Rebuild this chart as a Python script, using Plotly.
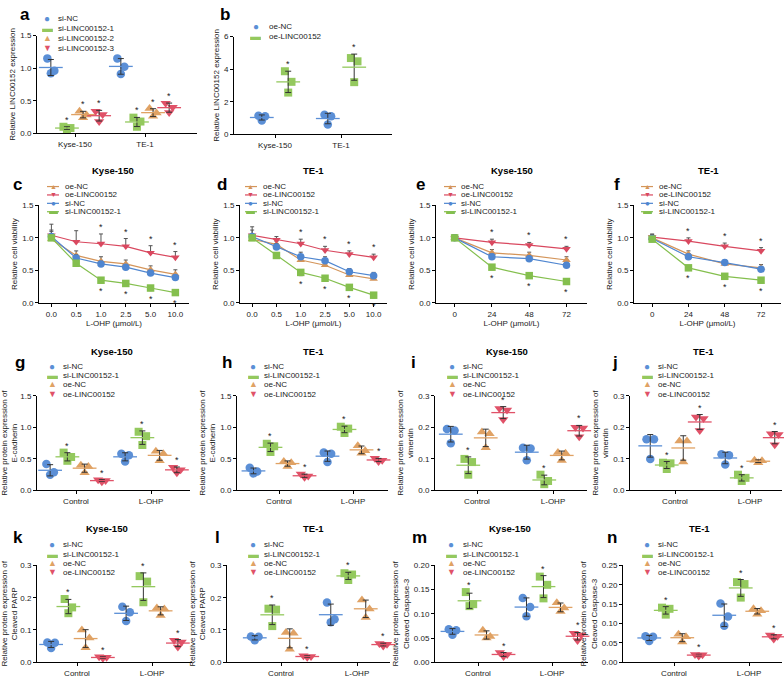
import numpy as np
import plotly.graph_objects as go

W, H = 784, 682
FONT = "Liberation Sans, Arial, Helvetica, sans-serif"

# ---------------- data ----------------
CELL_GROUPS = ["Kyse-150", "TE-1"]
TREAT_GROUPS = ["Control", "L-OHP"]
DOSES = ["0.0", "0.5", "1.0", "2.5", "5.0", "10.0"]
HOURS = ["0", "24", "48", "72"]

# panel a : relative LINC00152 expression (triplicates, per cell line)
A_siNC = [[1.15, 0.96, 0.92], [1.15, 1.02, 0.91]]
A_si1 = [[0.10, 0.08, 0.06], [0.24, 0.18, 0.10]]
A_si2 = [[0.34, 0.28, 0.24], [0.38, 0.31, 0.26]]
A_si3 = [[0.34, 0.29, 0.18], [0.46, 0.40, 0.32]]
# panel b
B_oeNC = [[1.14, 1.10, 0.85], [1.20, 1.10, 0.60]]
B_oeLINC = [[3.87, 3.22, 2.56], [4.68, 4.48, 3.20]]

# panels c-f : relative cell viability (mean, sd)
C_oeNC = [0.98, 0.73, 0.64, 0.60, 0.51, 0.44]
C_oeLINC = [1.04, 0.94, 0.91, 0.87, 0.77, 0.70]
C_siNC = [1.02, 0.69, 0.60, 0.55, 0.46, 0.39]
C_siLINC = [1.00, 0.61, 0.35, 0.30, 0.23, 0.16]
C_oeNC_sd = [0.12, 0.07, 0.07, 0.06, 0.06, 0.07]
C_oeLINC_sd = [0.17, 0.17, 0.15, 0.12, 0.11, 0.09]
C_siNC_sd = [0.10, 0.05, 0.04, 0.04, 0.04, 0.04]
C_siLINC_sd = [0.04, 0.04, 0.04, 0.04, 0.04, 0.04]

D_oeNC = [0.98, 0.90, 0.66, 0.58, 0.43, 0.37]
D_oeLINC = [1.04, 0.97, 0.91, 0.81, 0.75, 0.70]
D_siNC = [1.02, 0.86, 0.71, 0.65, 0.48, 0.42]
D_siLINC = [1.00, 0.73, 0.47, 0.38, 0.24, 0.12]
D_oeNC_sd = [0.06, 0.05, 0.05, 0.05, 0.04, 0.04]
D_oeLINC_sd = [0.13, 0.05, 0.07, 0.06, 0.05, 0.05]
D_siNC_sd = [0.10, 0.05, 0.07, 0.06, 0.05, 0.05]
D_siLINC_sd = [0.04, 0.04, 0.05, 0.04, 0.04, 0.04]

E_oeNC = [1.00, 0.77, 0.73, 0.66]
E_oeLINC = [1.00, 0.93, 0.89, 0.83]
E_siNC = [1.00, 0.71, 0.68, 0.58]
E_siLINC = [1.00, 0.55, 0.42, 0.33]
E_oeNC_sd = [0.05, 0.05, 0.05, 0.05]
E_oeLINC_sd = [0.05, 0.05, 0.04, 0.04]
E_siNC_sd = [0.04, 0.04, 0.04, 0.04]
E_siLINC_sd = [0.03, 0.04, 0.04, 0.04]

F_oeNC = [1.00, 0.75, 0.60, 0.54]
F_oeLINC = [1.01, 0.95, 0.87, 0.80]
F_siNC = [0.99, 0.71, 0.62, 0.52]
F_siLINC = [0.98, 0.54, 0.41, 0.35]
F_oeNC_sd = [0.05, 0.05, 0.05, 0.05]
F_oeLINC_sd = [0.05, 0.05, 0.05, 0.05]
F_siNC_sd = [0.04, 0.04, 0.04, 0.04]
F_siLINC_sd = [0.03, 0.04, 0.04, 0.04]

# panels g-n : relative protein expression (triplicates, Control / L-OHP)
G_siNC = [[0.42, 0.29, 0.25], [0.58, 0.56, 0.46]]
G_si1 = [[0.60, 0.53, 0.47], [0.93, 0.86, 0.72]]
G_oeNC = [[0.40, 0.38, 0.28], [0.62, 0.58, 0.47]]
G_oeLINC = [[0.17, 0.16, 0.14], [0.37, 0.33, 0.28]]

H_siNC = [[0.36, 0.30, 0.27], [0.60, 0.58, 0.45]]
H_si1 = [[0.74, 0.70, 0.61], [1.01, 0.98, 0.91]]
H_oeNC = [[0.46, 0.44, 0.38], [0.71, 0.63, 0.59]]
H_oeLINC = [[0.26, 0.23, 0.21], [0.51, 0.48, 0.46]]

I_siNC = [[0.195, 0.190, 0.150], [0.135, 0.133, 0.096]]
I_si1 = [[0.100, 0.090, 0.050], [0.050, 0.030, 0.020]]
I_oeNC = [[0.185, 0.180, 0.135], [0.120, 0.118, 0.095]]
I_oeLINC = [[0.260, 0.255, 0.225], [0.200, 0.198, 0.170]]

J_siNC = [[0.162, 0.162, 0.100], [0.115, 0.112, 0.082]]
J_si1 = [[0.088, 0.086, 0.068], [0.050, 0.040, 0.030]]
J_oeNC = [[0.157, 0.157, 0.090], [0.096, 0.094, 0.088]]
J_oeLINC = [[0.233, 0.228, 0.190], [0.180, 0.177, 0.145]]

K_siNC = [[0.061, 0.060, 0.044], [0.172, 0.155, 0.128]]
K_si1 = [[0.196, 0.170, 0.152], [0.267, 0.250, 0.186]]
K_oeNC = [[0.100, 0.075, 0.045], [0.168, 0.165, 0.145]]
K_oeLINC = [[0.017, 0.015, 0.012], [0.068, 0.063, 0.047]]

L_siNC = [[0.080, 0.079, 0.068], [0.185, 0.133, 0.124]]
L_si1 = [[0.166, 0.163, 0.112], [0.276, 0.272, 0.255]]
L_oeNC = [[0.092, 0.090, 0.040], [0.193, 0.165, 0.139]]
L_oeLINC = [[0.020, 0.018, 0.015], [0.058, 0.056, 0.050]]

M_siNC = [[0.068, 0.066, 0.057], [0.133, 0.114, 0.095]]
M_si1 = [[0.145, 0.120, 0.116], [0.177, 0.160, 0.132]]
M_oeNC = [[0.066, 0.053, 0.050], [0.123, 0.112, 0.105]]
M_oeLINC = [[0.020, 0.016, 0.012], [0.060, 0.056, 0.045]]

N_siNC = [[0.067, 0.066, 0.055], [0.152, 0.118, 0.094]]
N_si1 = [[0.141, 0.138, 0.123], [0.207, 0.202, 0.167]]
N_oeNC = [[0.072, 0.066, 0.052], [0.138, 0.133, 0.124]]
N_oeLINC = [[0.020, 0.019, 0.016], [0.070, 0.067, 0.060]]

# ---------------- style ----------------
BLUE = "#5B8FD6"
GREEN = "#94C95E"
ORANGE = "#E0A264"
RED = "#E05268"
LBLUE = "#4F86D0"
LGREEN = "#84BF4E"
LORANGE = "#D4955A"
LRED = "#D9485F"
ERR = "#333333"
TXT = "#1a1a1a"
GLYPH = {"circle": "●", "square": "▬", "triangle-up": "▲", "triangle-down": "▼"}
GSIZE = {"circle": 10, "square": 11, "triangle-up": 9, "triangle-down": 9}
MSIZE = {"circle": 8.5, "square": 8, "triangle-up": 9, "triangle-down": 9}
REP_DX = [-0.05, 0.05, 0.0]

fig = go.Figure()
annotations = []
shapes = []
layout = {}


def axis_names(k):
    sfx = "" if k == 1 else str(k)
    return "xaxis" + sfx, "yaxis" + sfx, "x" + sfx, "y" + sfx


def set_axes(k, box, xr, xtv, xtt, yr, ytv, yfmt, ytitle, xtitle=None):
    x0, x1, yt, yb = box
    xa, ya, xr_, yr_ = axis_names(k)
    base = dict(showline=True, linecolor="black", linewidth=1, ticks="outside",
                ticklen=3, tickwidth=1, tickcolor="black", showgrid=False,
                zeroline=False, fixedrange=True,
                tickfont=dict(size=8, family=FONT, color=TXT))
    layout[xa] = dict(base, domain=[x0 / W, x1 / W], range=xr, anchor=yr_,
                      tickmode="array", tickvals=xtv, ticktext=xtt)
    if xtitle:
        layout[xa]["title"] = dict(text=xtitle, font=dict(size=8, family=FONT, color=TXT), standoff=2)
    layout[ya] = dict(base, domain=[1 - yb / H, 1 - yt / H], range=yr, anchor=xr_,
                      tickmode="array", tickvals=ytv, tickformat=yfmt,
                      title=dict(text=ytitle, font=dict(size=8, family=FONT, color=TXT), standoff=3))
    return xr_, yr_


def legend(mx, tx, ys, items, line=False):
    for (name, col, sym), y in zip(items, ys):
        if line:
            shapes.append(dict(type="line", xref="paper", yref="paper",
                               x0=(mx - 6) / W, x1=(mx + 6) / W, y0=1 - y / H, y1=1 - y / H,
                               line=dict(color=col, width=1.2)))
        annotations.append(dict(xref="paper", yref="paper", x=mx / W, y=1 - y / H,
                                text=GLYPH[sym], showarrow=False, xanchor="center", yanchor="middle",
                                borderpad=0, height=8, valign="middle", yshift=0.5,
                                font=dict(size=GSIZE[sym] - (2 if line else 0), color=col, family=FONT)))
        annotations.append(dict(xref="paper", yref="paper", x=tx / W, y=1 - y / H,
                                text=name, showarrow=False, xanchor="left", yanchor="middle",
                                borderpad=0,
                                font=dict(size=8, color=TXT, family=FONT)))


def label(x, y, text, size, anchor="left"):
    annotations.append(dict(xref="paper", yref="paper", x=x / W, y=1 - y / H, text="<b>%s</b>" % text,
                            showarrow=False, xanchor=anchor, yanchor="middle",
                            font=dict(size=size, color="black", family=FONT)))


def scatter_panel(k, box, c0, s, cats, series, offsets, yr, ytv, yfmt, ytitle, leg):
    x0, x1, yt, yb = box
    xr = [(x0 - c0) / s, (x1 - c0) / s]
    xref, yref = set_axes(k, box, xr, list(range(len(cats))), cats, yr, ytv, yfmt, ytitle)
    for (name, data, col, sym, star), off in zip(series, offsets):
        xs, ys = [], []
        for g, reps in enumerate(data):
            for r, v in enumerate(reps):
                xs.append(g + off + REP_DX[r])
                ys.append(v)
        fig.add_trace(go.Scatter(x=xs, y=ys, mode="markers", xaxis=xref, yaxis=yref,
                                 marker=dict(symbol=sym, size=MSIZE[sym], color=col, line=dict(width=0)),
                                 showlegend=False, cliponaxis=False, name=name))
        means = [float(np.mean(r)) for r in data]
        sds = [float(np.std(r, ddof=1)) for r in data]
        fig.add_trace(go.Scatter(x=[g + off for g in range(len(data))], y=means, mode="markers",
                                 xaxis=xref, yaxis=yref, showlegend=False, cliponaxis=False,
                                 marker=dict(symbol="line-ew", size=17, line=dict(color=col, width=1.3)),
                                 error_y=dict(type="data", array=sds, color=ERR, thickness=1, width=3)))
        if star:
            for g in range(len(data)):
                top = max(means[g] + sds[g], max(data[g]))
                annotations.append(dict(x=g + off, y=top, xref=xref, yref=yref, text="*",
                                        showarrow=False, yanchor="bottom", xanchor="center",
                                        font=dict(size=9, color=TXT, family=FONT)))
    legend(leg[0], leg[1], leg[2], [(n, c, sy) for (n, d, c, sy, st) in series])


def line_panel(k, box, xcats, series, leg, star_from):
    n = len(xcats)
    xr = [-0.5, n - 0.45]
    xref, yref = set_axes(k, box, xr, list(range(n)), xcats, [0, 1.5], [0, 0.5, 1.0, 1.5], ".1f",
                          "Relative cell viability", xtitle="L-OHP (μmol/L)")
    for name, mean, sd, col, sym, direction, star in series:
        err = dict(type="data", symmetric=False, color="#555555", thickness=1, width=2)
        if direction > 0:
            err.update(array=sd, arrayminus=[0] * len(sd))
        else:
            err.update(array=[0] * len(sd), arrayminus=sd)
        fig.add_trace(go.Scatter(x=list(range(n)), y=mean, mode="lines+markers", xaxis=xref, yaxis=yref,
                                 line=dict(color=col, width=1.2), error_y=err, showlegend=False,
                                 cliponaxis=False, name=name,
                                 marker=dict(symbol=sym, size=7.5, color=col, line=dict(width=0))))
        if star:
            for i in range(star_from, n):
                if direction > 0:
                    annotations.append(dict(x=i, y=mean[i] + sd[i], xref=xref, yref=yref, text="*",
                                            showarrow=False, yanchor="bottom",
                                            font=dict(size=9, color=TXT, family=FONT)))
                else:
                    annotations.append(dict(x=i, y=mean[i] - sd[i], xref=xref, yref=yref, text="*",
                                            showarrow=False, yanchor="top", yshift=-1,
                                            font=dict(size=9, color=TXT, family=FONT)))
    legend(leg[0], leg[1], leg[2], [(s[0], s[3], s[4]) for s in series], line=True)


OFF4 = [-0.345, -0.115, 0.115, 0.345]
OFF4N = [-0.33, -0.11, 0.11, 0.33]

# ---- row 1 ----
scatter_panel(1, (37, 197, 32, 131), 75, 70, CELL_GROUPS,
              [("si-NC", A_siNC, BLUE, "circle", False),
               ("si-LINC00152-1", A_si1, GREEN, "square", True),
               ("si-LINC00152-2", A_si2, ORANGE, "triangle-up", True),
               ("si-LINC00152-3", A_si3, RED, "triangle-down", True)],
              OFF4, [0, 1.5], [0, 0.5, 1.0, 1.5], ".1f", "Relative LINC00152 expression",
              (47, 57, [15, 25, 35, 45]))
scatter_panel(2, (234, 392, 33, 132), 275, 66, CELL_GROUPS,
              [("oe-NC", B_oeNC, BLUE, "circle", False),
               ("oe-LINC00152", B_oeLINC, GREEN, "square", True)],
              [-0.2, 0.2], [0, 6], [0, 2, 4, 6], "d", "Relative LINC00152 expression",
              (256, 268, [23, 33]))
label(25, 11, "a", 17, "center")
label(225, 11, "b", 17, "center")

# ---- row 2 ----
def line_series(oeNC, oeLINC, siNC, siLINC, sdo, sdl, sds, sdg):
    return [("oe-NC", oeNC, sdo, LORANGE, "triangle-up", 1, False),
            ("oe-LINC00152", oeLINC, sdl, LRED, "triangle-down", 1, True),
            ("si-NC", siNC, sds, LBLUE, "circle", 1, False),
            ("si-LINC00152-1", siLINC, sdg, LGREEN, "square", -1, True)]

LEGY2 = [185, 193.5, 202, 210.5]
line_panel(3, (39, 189, 204, 303), DOSES,
           line_series(C_oeNC, C_oeLINC, C_siNC, C_siLINC, C_oeNC_sd, C_oeLINC_sd, C_siNC_sd, C_siLINC_sd),
           (53, 64, LEGY2), 2)
line_panel(4, (240, 387, 204, 303), DOSES,
           line_series(D_oeNC, D_oeLINC, D_siNC, D_siLINC, D_oeNC_sd, D_oeLINC_sd, D_siNC_sd, D_siLINC_sd),
           (251, 262, LEGY2), 2)
line_panel(5, (436, 587, 204, 303), HOURS,
           line_series(E_oeNC, E_oeLINC, E_siNC, E_siLINC, E_oeNC_sd, E_oeLINC_sd, E_siNC_sd, E_siLINC_sd),
           (450, 460, LEGY2), 1)
line_panel(6, (634, 781, 204, 303), HOURS,
           line_series(F_oeNC, F_oeLINC, F_siNC, F_siLINC, F_oeNC_sd, F_oeLINC_sd, F_siNC_sd, F_siLINC_sd),
           (647, 658, LEGY2), 1)
for x, t in [(113, "Kyse-150"), (313, "TE-1"), (512, "Kyse-150"), (708, "TE-1")]:
    label(x, 169, t, 9.5, "center")
for x, t in [(17, "c"), (222, "d"), (420, "e"), (617, "f")]:
    label(x, 183, t, 17, "center")

# ---- rows 3 & 4 ----
def prot_series(siNC, si1, oeNC, oeLINC):
    return [("si-NC", siNC, BLUE, "circle", False),
            ("si-LINC00152-1", si1, GREEN, "square", True),
            ("oe-NC", oeNC, ORANGE, "triangle-up", False),
            ("oe-LINC00152", oeLINC, RED, "triangle-down", True)]

T_ECAD = "Relative protein expression of<br>E-cadherin"
T_VIM = "Relative protein expression of<br>vimentin"
T_PARP = "Relative protein expression of<br>Cleaved PARP"
T_CASP = "Relative protein expression of<br>Cleaved Caspase-3"
LEGY3 = [367, 376.5, 386, 395.5]
LEGY4 = [548, 557.5, 567, 576.5]
T15 = [0, 0.5, 1.0, 1.5]
T03 = [0, 0.1, 0.2, 0.3]

scatter_panel(7, (37, 190, 397, 493), 76, 75, TREAT_GROUPS, prot_series(G_siNC, G_si1, G_oeNC, G_oeLINC),
              OFF4, [0, 1.5], T15, ".1f", T_ECAD, (52, 62, LEGY3))
scatter_panel(8, (237, 388, 397, 493), 279, 74, TREAT_GROUPS, prot_series(H_siNC, H_si1, H_oeNC, H_oeLINC),
              OFF4, [0, 1.5], T15, ".1f", T_ECAD, (253, 263, LEGY3))
scatter_panel(9, (435, 587, 397, 493), 477, 76, TREAT_GROUPS, prot_series(I_siNC, I_si1, I_oeNC, I_oeLINC),
              OFF4, [0, 0.3], T03, ".1f", T_VIM, (452, 462, LEGY3))
scatter_panel(10, (630, 782, 397, 493), 675, 75, TREAT_GROUPS, prot_series(J_siNC, J_si1, J_oeNC, J_oeLINC),
              OFF4N, [0, 0.3], T03, ".1f", T_VIM, (647, 657, LEGY3))
scatter_panel(11, (37, 192, 569, 667), 77, 75, TREAT_GROUPS, prot_series(K_siNC, K_si1, K_oeNC, K_oeLINC),
              OFF4, [0, 0.3], T03, ".1f", T_PARP, (52, 62, LEGY4))
scatter_panel(12, (227, 390, 569, 667), 281, 76, TREAT_GROUPS, prot_series(L_siNC, L_si1, L_oeNC, L_oeLINC),
              OFF4, [0, 0.3], T03, ".1f", T_PARP, (253, 263, LEGY4))
scatter_panel(13, (435, 588, 569, 667), 478, 74, TREAT_GROUPS, prot_series(M_siNC, M_si1, M_oeNC, M_oeLINC),
              OFF4, [0, 0.20], [0, 0.05, 0.10, 0.15, 0.20], ".2f", T_CASP, (451, 462, LEGY4))
scatter_panel(14, (623, 782, 569, 667), 674, 75, TREAT_GROUPS, prot_series(N_siNC, N_si1, N_oeNC, N_oeLINC),
              OFF4N, [0, 0.25], [0, 0.05, 0.10, 0.15, 0.20, 0.25], ".2f", T_CASP, (647, 657, LEGY4))

for x, t in [(112, "Kyse-150"), (313, "TE-1"), (507, "Kyse-150"), (703, "TE-1")]:
    label(x, 352, t, 9.5, "center")
for x, t in [(20, "g"), (227, "h"), (413, "i"), (615, "j")]:
    label(x, 363, t, 17, "center")
for x, t in [(107, "Kyse-150"), (313, "TE-1"), (510, "Kyse-150"), (699, "TE-1")]:
    label(x, 532, t, 9.5, "center")
for x, t in [(18, "k"), (217, "l"), (419, "m"), (612, "n")]:
    label(x, 541, t, 17, "center")

fig.update_layout(width=W, height=H, autosize=False, margin=dict(l=0, r=0, t=0, b=0),
                  paper_bgcolor="white", plot_bgcolor="white", showlegend=False,
                  font=dict(family=FONT, size=8, color=TXT),
                  annotations=annotations, shapes=shapes, **layout)
fig.write_html("out.html", config={"displayModeBar": False, "staticPlot": True},
               post_script="document.body.style.margin='0';document.body.style.overflow='hidden';")
